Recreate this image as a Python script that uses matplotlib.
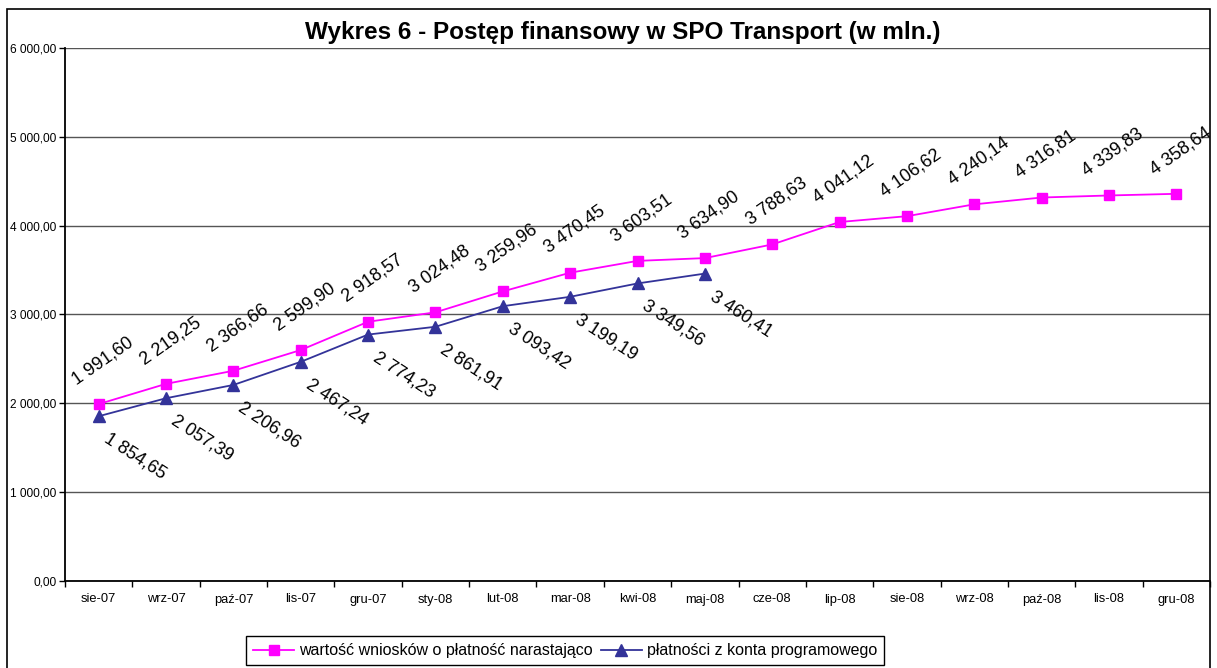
import matplotlib
matplotlib.use('Agg')
import matplotlib.pyplot as plt
from matplotlib.patches import Rectangle
from matplotlib.ticker import FixedLocator, FuncFormatter

plt.rcParams['font.family'] = ['Liberation Sans', 'DejaVu Sans']

months = ['sie-07', 'wrz-07', 'paź-07', 'lis-07', 'gru-07', 'sty-08', 'lut-08', 'mar-08',
          'kwi-08', 'maj-08', 'cze-08', 'lip-08', 'sie-08', 'wrz-08', 'paź-08', 'lis-08', 'gru-08']
wnioski = [1991.60, 2219.25, 2366.66, 2599.90, 2918.57, 3024.48, 3259.96, 3470.45, 3603.51,
           3634.90, 3788.63, 4041.12, 4106.62, 4240.14, 4316.81, 4339.83, 4358.64]
platnosci = [1854.65, 2057.39, 2206.96, 2467.24, 2774.23, 2861.91, 3093.42, 3199.19, 3349.56,
             3460.41]

title = 'Wykres 6 - Postęp finansowy w SPO Transport (w mln.)'
label1 = 'wartość wniosków o płatność narastająco'
label2 = 'płatności z konta programowego'

pink = '#FF00FF'
navy = '#333399'


def pl(v):
    s = '{:,.2f}'.format(v)
    return s.replace(',', ' ').replace('.', ',')


W, H = 1217, 668
fig = plt.figure(figsize=(W / 100, H / 100), dpi=100)
ax = fig.add_axes([65 / W, 1 - 581 / H, (1210 - 65) / W, (581 - 48) / H])

# chart frame (bottom edge is off the picture)
frame = Rectangle((7 / W, -0.1), (1210 - 7) / W, 1.1 - 9 / H, transform=fig.transFigure,
                  fill=False, ec='black', lw=1.2)
fig.patches.append(frame)

x1 = list(range(len(wnioski)))
x2 = list(range(len(platnosci)))
ax.plot(x1, wnioski, color=pink, lw=1.3, marker='s', ms=7, mec=pink, label=label1, zorder=3)
ax.plot(x2, platnosci, color=navy, lw=1.3, marker='^', ms=8, mec=navy, label=label2, zorder=3)

for x, v in zip(x1, wnioski):
    t = ax.annotate(pl(v), (x, v), xytext=(3, 31), textcoords='offset points',
                    ha='center', va='center', rotation=35, fontsize=13, annotation_clip=False)
    t.set_clip_path(frame)
for x, v in zip(x2, platnosci):
    t = ax.annotate(pl(v), (x, v), xytext=(26, -29), textcoords='offset points',
                    ha='center', va='center', rotation=-33, fontsize=13)
    t.set_clip_path(frame)

ax.set_xlim(-0.5, len(months) - 0.5)
ax.set_ylim(0, 6000)
ax.set_yticks(range(0, 6001, 1000))
ax.yaxis.set_major_formatter(FuncFormatter(lambda v, p: pl(v)))
ax.set_xticks(x1)
ax.set_xticklabels(months)
ax.xaxis.set_minor_locator(FixedLocator([i - 0.5 for i in range(len(months) + 1)]))
ax.tick_params(axis='x', which='major', length=0, labelsize=9.3, pad=9)
ax.tick_params(axis='x', which='minor', length=4, direction='out', width=1)
ax.tick_params(axis='y', length=4, direction='out', width=1, labelsize=8.6, pad=2)
ax.grid(axis='y', color='#555555', lw=1)
ax.set_axisbelow(True)
for s in ['top', 'right']:
    ax.spines[s].set_visible(False)
ax.spines['left'].set_linewidth(1.3)
ax.spines['bottom'].set_linewidth(1.3)

fig.text(623 / W, 1 - 33 / H, title, ha='center', va='center', fontsize=17.5, fontweight='bold')

leg = fig.legend(loc='upper center', bbox_to_anchor=(565 / W, 1 - 636 / H), ncol=2, fontsize=11.5,
                 fancybox=False, edgecolor='black', framealpha=1, handlelength=2.6,
                 columnspacing=0.5, handletextpad=0.3, borderpad=0.45, borderaxespad=0)
leg.get_frame().set_linewidth(1)

fig.savefig('out.png', dpi=100)
